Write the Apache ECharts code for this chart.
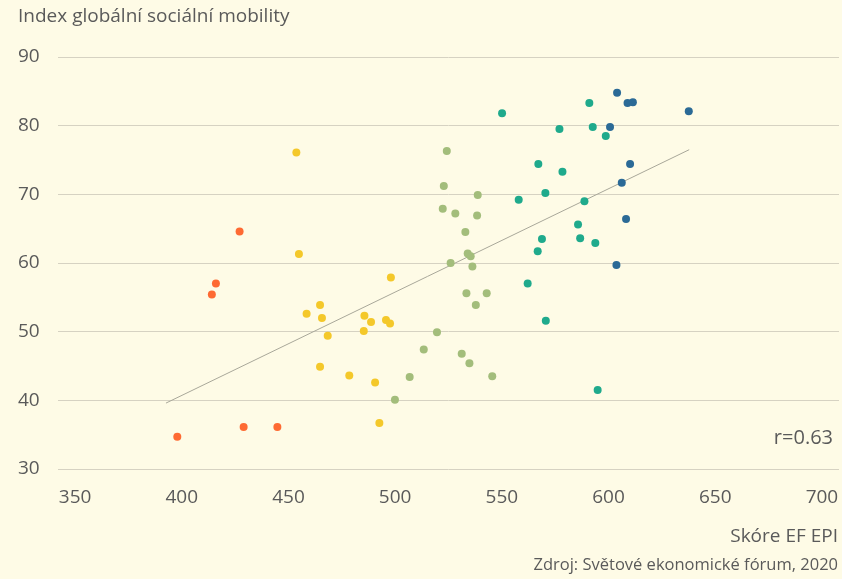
<!DOCTYPE html>
<html>
<head>
<meta charset="utf-8">
<script src="https://cdn.jsdelivr.net/npm/echarts@6/dist/echarts.min.js"></script>
<style>
html,body{margin:0;padding:0;background:#fefbe6;}
#c{width:842px;height:579px;}
</style>
</head>
<body>
<div id="c"></div>
<script>
// EF EPI score (x) vs Global Social Mobility Index (y), grouped by colour
const redPts = [[397.9,34.7],[429.0,36.1],[444.8,36.1],[414.1,55.4],[416.0,57.0],[427.1,64.6]];
const yellowPts = [[453.7,76.1],[454.9,61.3],[498.0,57.9],[464.8,53.9],[458.5,52.6],[465.7,52.0],[485.6,52.3],[488.7,51.4],[495.7,51.7],[497.6,51.2],[485.3,50.1],[468.4,49.4],[464.8,44.9],[478.5,43.6],[490.6,42.6],[492.6,36.7]];
const greenPts = [[524.2,76.3],[522.8,71.2],[538.7,69.9],[522.3,67.9],[528.2,67.2],[538.4,66.9],[532.9,64.5],[534.0,61.4],[535.4,61.0],[526.0,60.0],[536.2,59.5],[533.4,55.6],[542.9,55.6],[537.8,53.9],[519.6,49.9],[513.4,47.4],[531.2,46.8],[534.8,45.4],[506.8,43.4],[545.5,43.5],[499.9,40.1]];
const tealPts = [[550.1,81.8],[591.0,83.3],[577.0,79.5],[592.6,79.8],[598.7,78.5],[567.1,74.4],[578.4,73.3],[570.4,70.2],[557.9,69.2],[588.7,69.0],[585.7,65.6],[568.8,63.5],[586.7,63.6],[593.8,62.9],[566.8,61.7],[562.1,57.0],[570.6,51.6],[594.9,41.5]];
const bluePts = [[604.0,84.8],[608.9,83.3],[611.4,83.4],[637.6,82.1],[600.7,79.8],[610.1,74.4],[606.2,71.7],[608.2,66.4],[603.7,59.7]];
const trendLine = [[392.6,39.6],[637.8,76.5]];
const xTicks = [350,400,450,500,550,600,650,700];
const yTicks = [30,40,50,60,70,80,90];

const FONT = '"Open Sans", "Noto Sans", sans-serif';
const TXT = '#5a5a5a';
const chart = echarts.init(document.getElementById('c'));
function sc(data, color){
  return {type:'scatter', data:data, symbolSize:8, itemStyle:{color:color, opacity:1}, z:3};
}
function ttl(text, pos, size){
  return Object.assign({text:text, padding:0, textStyle:{fontFamily:FONT, fontSize:size, fontWeight:'normal', color:TXT}}, pos);
}
chart.setOption({
  backgroundColor:'#fefbe6',
  animation:false,
  textStyle:{fontFamily:FONT},
  grid:{left:58, right:3, top:57, bottom:110, containLabel:false},
  title:[
    ttl('Index globální sociální mobility', {left:18, top:7}, 19),
    ttl('Skóre EF EPI', {right:4, top:527}, 19),
    ttl('Zdroj: Světové ekonomické fórum, 2020', {right:4, top:557}, 16.5),
    ttl('r=0.63', {right:9, top:428}, 20)
  ],
  xAxis:{
    type:'value', min:342, max:708,
    axisLine:{show:false}, axisTick:{show:false}, splitLine:{show:false},
    axisLabel:{customValues:xTicks, fontFamily:FONT, fontSize:19, color:TXT, margin:19}
  },
  yAxis:{
    type:'value', min:30, max:90, interval:10,
    axisLine:{show:false}, axisTick:{show:false},
    splitLine:{show:true, lineStyle:{color:'#d6d2c2', width:1}},
    axisLabel:{customValues:yTicks, fontFamily:FONT, fontSize:19, color:TXT, align:'left', margin:40}
  },
  series:[
    {type:'line', data:trendLine, symbol:'none', lineStyle:{color:'#a9a89a', width:1}, z:2, silent:true},
    sc(redPts,'#fe6a33'),
    sc(yellowPts,'#f4c82a'),
    sc(greenPts,'#a3bd7b'),
    sc(tealPts,'#1faa8c'),
    sc(bluePts,'#2b6a96')
  ]
});
</script>
</body>
</html>
